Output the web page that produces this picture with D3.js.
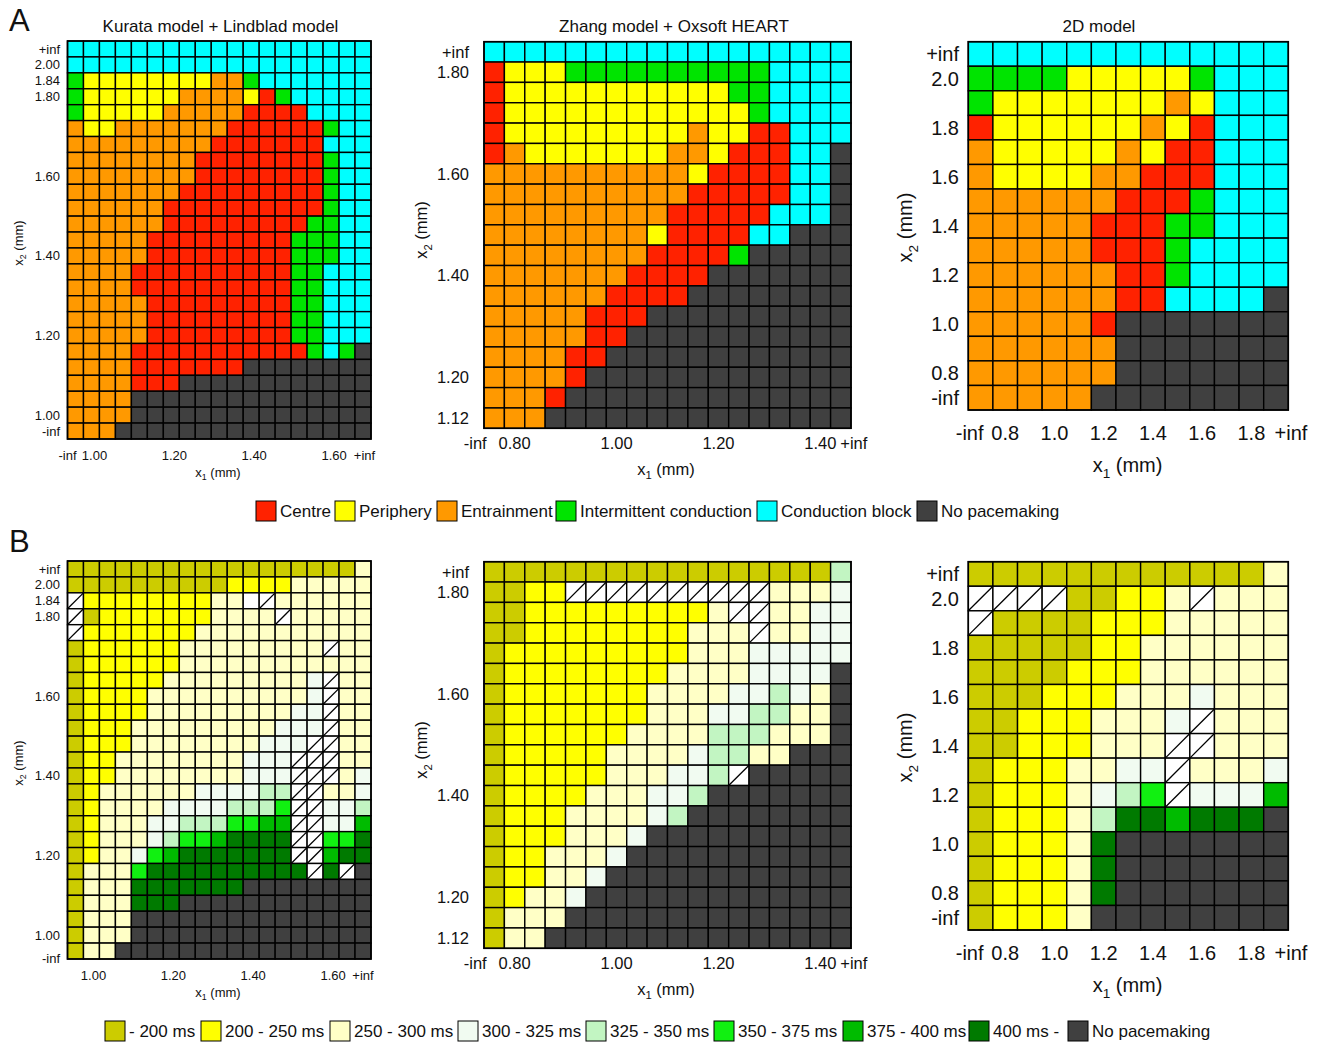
<!DOCTYPE html>
<html>
<head>
<meta charset="utf-8">
<script src="https://cdn.jsdelivr.net/npm/d3@7"></script>
<style>
  body { margin: 0; background: #fff; }
  text { font-family: "Liberation Sans", Arial, sans-serif; fill: #111; }
</style>
</head>
<body>
<div id="chart"></div>
<script>
// ---- categories (grid rows top->bottom, columns left->right) ----
const kurataX = ["-inf","1.00","1.04","1.08","1.12","1.16","1.20","1.24","1.28","1.32","1.36","1.40","1.44","1.48","1.52","1.56","1.60","1.64","+inf"]
const kurataY = ["+inf","2.00","1.84","1.80","1.76","1.72","1.68","1.64","1.60","1.56","1.52","1.48","1.44","1.40","1.36","1.32","1.28","1.24","1.20","1.16","1.12","1.08","1.04","1.00","-inf"]
const kurataXTicks = ["-inf","1.00","1.20","1.40","1.60","+inf"]
const kurataYTicks = ["+inf","2.00","1.84","1.80","1.60","1.40","1.20","1.00","-inf"]

const zhangX = ["-inf","0.80","0.84","0.88","0.92","0.96","1.00","1.04","1.08","1.12","1.16","1.20","1.24","1.28","1.32","1.36","1.40","+inf"]
const zhangY = ["+inf","1.80","1.76","1.72","1.68","1.64","1.60","1.56","1.52","1.48","1.44","1.40","1.36","1.32","1.28","1.24","1.20","1.16","1.12"]
const zhangXTicks = ["-inf","0.80","1.00","1.20","1.40","+inf"]
const zhangYTicks = ["+inf","1.80","1.60","1.40","1.20","1.12"]

const model2dX = ["-inf","0.8","0.9","1.0","1.1","1.2","1.3","1.4","1.5","1.6","1.7","1.8","+inf"]
const model2dY = ["+inf","2.0","1.9","1.8","1.7","1.6","1.5","1.4","1.3","1.2","1.1","1.0","0.9","0.8","-inf"]
const model2dXTicks = ["-inf","0.8","1.0","1.2","1.4","1.6","1.8","+inf"]
const model2dYTicks = ["+inf","2.0","1.8","1.6","1.4","1.2","1.0","0.8","-inf"]

// ---- A: pacemaking regime. R centre, Y periphery, O entrainment, G intermittent, C block, K none ----
const kurataRegime = [
  "CCCCCCCCCCCCCCCCCCC",
  "CCCCCCCCCCCCCCCCCCC",
  "GYYYYYYYYOOGCCCCCCC",
  "GYYYYYYOOOOYRGCCCCC",
  "GYYYYYOOOOORRRRCCCC",
  "OYYOOOOOOORRRRRRGCC",
  "OOOOOOOOORRRRRRRCCC",
  "OOOOOOOORRRRRRRRGCC",
  "OOOOOOOORRRRRRRRGCC",
  "OOOOOOORRRRRRRRRGCC",
  "OOOOOORRRRRRRRRRGCC",
  "OOOOOORRRRRRRRRGGCC",
  "OOOOORRRRRRRRRGGGCC",
  "OOOOORRRRRRRRRGGGCC",
  "OOOORRRRRRRRRRGGCCC",
  "OOOORRRRRRRRRRGGCCC",
  "OOOOORRRRRRRRRGGCCC",
  "OOOOORRRRRRRRRGGCCC",
  "OOOOORRRRRRRRRGGCCC",
  "OOOORRRRRRRRRRRGCGK",
  "OOOORRRRRRRKKKKKKKK",
  "OOOORRRKKKKKKKKKKKK",
  "OOOOKKKKKKKKKKKKKKK",
  "OOOOKKKKKKKKKKKKKKK",
  "OOOKKKKKKKKKKKKKKKK"
]
const zhangRegime = [
  "CCCCCCCCCCCCCCCCCC",
  "RYYYGGGGGGGGGGCCCC",
  "RYYYYYYYYYYYGGCCCC",
  "RYYYYYYYYYYYYGCCCC",
  "RYYYYYYYYYOYYRRCCC",
  "ROYYYYYYYOOYRRRCCK",
  "OOOOOOOOOOYRRRRCCK",
  "OOOOOOOOOORRRRRCCK",
  "OOOOOOOOORRRRRCCCK",
  "OOOOOOOOYRRRRCCKKK",
  "OOOOOOOORRRRGKKKKK",
  "OOOOOOORRRRKKKKKKK",
  "OOOOOORRRRKKKKKKKK",
  "OOOOORRRKKKKKKKKKK",
  "OOOOORRKKKKKKKKKKK",
  "OOOORRKKKKKKKKKKKK",
  "OOOORKKKKKKKKKKKKK",
  "OOORKKKKKKKKKKKKKK",
  "OOOKKKKKKKKKKKKKKK"
]
const model2dRegime = [
  "CCCCCCCCCCCCC",
  "GGGGYYYYYGCCC",
  "GYYYYYYYOYCCC",
  "RYYYYYYOYRCCC",
  "OYYYYYOYRRCCC",
  "OYYYYOORRRCCC",
  "OOOOOORRRGCCC",
  "OOOOORRRGGCCC",
  "OOOOORRRGCCCC",
  "OOOOOORRGCCCC",
  "OOOOOORRCCCCK",
  "OOOOORKKKKKKK",
  "OOOOOOKKKKKKK",
  "OOOOOOKKKKKKK",
  "OOOOOKKKKKKKK"
]

// ---- B: cycle length bins. a <200, b 200-250, c 250-300, d 300-325, e 325-350,
//      f 350-375, g 375-400, h >400, K none, H hatched, W blank ----
const kurataCycle = [
  "aaaaaaaaaaaaaaaaaac",
  "aaaaaaaaaabbbbccccc",
  "HbbbbbbbbccWHcccccc",
  "HabbbbbbbccccHccccc",
  "Hbbbbbbbccccccccccc",
  "abbbbbbcccccccccHcc",
  "abbbbbbcccccccccccc",
  "abbbbbcccccccccdHcc",
  "abbbbccccccccccdHcc",
  "abbbbcccccccccddHcc",
  "abbbcccccccccdddHcc",
  "abbbccccccccdddHHcc",
  "abbccccccccdddHHHcc",
  "abbccccccccdddHHHcd",
  "abccccccddddeeHHccd",
  "abccccddddeeefHHdde",
  "abcccddeeeffggHHddg",
  "abcccdeffghhhhHHffh",
  "abccdfghhhhhhhHHghh",
  "acccfhhhhhhhhhhHhHK",
  "accchhhhhhhKKKKKKKK",
  "accchhhKKKKKKKKKKKK",
  "acccKKKKKKKKKKKKKKK",
  "acccKKKKKKKKKKKKKKK",
  "accKKKKKKKKKKKKKKKK"
]
const zhangCycle = [
  "aaaaaaaaaaaaaaaaae",
  "aabbHHHHHHHHHHcccd",
  "aabbbbbbbbbcHHccdd",
  "aabbbbbbbbcccHccdd",
  "abbbbbbbbbcccddddd",
  "abbbbbbbbccccddddK",
  "abbbbbbbccccddedcK",
  "abbbbbbbcccddeeccK",
  "abbbbbbcccceeecccK",
  "abbbbbccccdeeccKKK",
  "abbbbbcccddeHKKKKK",
  "abbbbcccddeKKKKKKK",
  "abbbccccdeKKKKKKKK",
  "abbbcccdKKKKKKKKKK",
  "abbcccdKKKKKKKKKKK",
  "abbccdKKKKKKKKKKKK",
  "abccdKKKKKKKKKKKKK",
  "acccKKKKKKKKKKKKKK",
  "accKKKKKKKKKKKKKKK"
]
const model2dCycle = [
  "aaaaaaaaaaaac",
  "HHHHaabbcHccc",
  "Haaaabbbccccc",
  "aaaaabbcccccc",
  "aaaabbbcccccc",
  "aaabbbcccdccc",
  "aabbbcccdHccc",
  "aabbbcccHHccc",
  "abbbccddHcccd",
  "abbbcdefHdddg",
  "abbbcehhghhhK",
  "abbbchKKKKKKK",
  "abbbchKKKKKKK",
  "abbbchKKKKKKK",
  "abbbcKKKKKKKK"
]

// ---- legends ----
const regimeCodes = ["R","Y","O","G","C","K"]
const regimeLabels = ["Centre","Periphery","Entrainment","Intermittent conduction","Conduction block","No pacemaking"]
const cycleCodes = ["a","b","c","d","e","f","g","h","K"]
const cycleLabels = ["- 200 ms","200 - 250 ms","250 - 300 ms","300 - 325 ms","325 - 350 ms","350 - 375 ms","375 - 400 ms","400 ms -","No pacemaking"]

const regimeColours = {R:'#ff2200', Y:'#ffff00', O:'#ff9900', G:'#00e400', C:'#00ffff', K:'#404040'}
const cycleColours = {a:'#cccc00', b:'#ffff00', c:'#ffffc6', d:'#f1fbf1', e:'#c2f5c2',
                      f:'#11f011', g:'#00bb00', h:'#007a00', K:'#404040', H:'#ffffff', W:'#ffffff'}

const W = 1317, H = 1044
const svg = d3.select('#chart').append('svg')
    .attr('width', W)
    .attr('height', H)
svg.append('rect').attr('width', W).attr('height', H).attr('fill', '#fff')

const FONT = '"Liberation Sans", Arial, sans-serif'

/*
 * Panel layouts (pixel geometry only). B row is the same, shifted down.
 */
const kurataLayout = {x0: 67.5, x1: 371, y0: 41, y1: 439, fs: 13, yLabelX: 60, xLabelY: 455,
    xTitle: [218, 472], yTitle: [18, 243], dxNum: 3, dxMinus: -8, dxPlus: 1.5, titleX: 220.5}
const zhangLayout = {x0: 484, x1: 851, y0: 41.7, y1: 428.3, fs: 16.5, yLabelX: 469, xLabelY: 443.3,
    xTitle: [666, 469], yTitle: [421.7, 230], dxNum: 0, dxMinus: -19, dxPlus: 13, titleX: 674}
const model2dLayout = {x0: 968.3, x1: 1288.3, y0: 41.7, y1: 410, fs: 20, yLabelX: 959, xLabelY: 433.3,
    xTitle: [1127.5, 465], yTitle: [905, 227.5], dxNum: 0, dxMinus: -11, dxPlus: 15, titleX: 1099}
const B_SHIFT = 520

function subTitle(g, x, y, fs, sub, rotate) {
    const t = g.append('text')
        .attr('text-anchor', 'middle')
        .attr('font-size', fs)
        .attr('transform', rotate ? `translate(${x},${y}) rotate(-90)` : `translate(${x},${y})`)
        .attr('dy', '0.35em')
    t.append('tspan').text('x')
    t.append('tspan').attr('font-size', fs * 0.68).attr('dy', fs * 0.28).text(sub)
    t.append('tspan').attr('dy', -fs * 0.28).text(' (mm)')
}

function drawPanel(L, shift, xCats, yCats, rows, colours, xTicks, yTicks, opts) {
    const g = svg.append('g')

    const xScale = d3.scaleBand().domain(xCats).range([L.x0, L.x1])
    const yScale = d3.scaleBand().domain(yCats).range([L.y0 + shift, L.y1 + shift])

    const cells = []
    rows.forEach((row, i) => {
        row.split('').forEach((code, j) => {
            cells.push({xv: xCats[j], yv: yCats[i], code: code})
        })
    })

    g.selectAll('rect.cell')
        .data(cells)
        .join('rect')
        .attr('class', 'cell')
        .attr('x', d => xScale(d.xv))
        .attr('y', d => yScale(d.yv))
        .attr('width', xScale.bandwidth())
        .attr('height', yScale.bandwidth())
        .attr('fill', d => colours[d.code])
        .attr('stroke', '#000')
        .attr('stroke-width', 1.4)

    // hatched cells: single diagonal
    g.selectAll('line.hatch')
        .data(cells.filter(d => d.code === 'H'))
        .join('line')
        .attr('class', 'hatch')
        .attr('x1', d => xScale(d.xv))
        .attr('y1', d => yScale(d.yv) + yScale.bandwidth())
        .attr('x2', d => xScale(d.xv) + xScale.bandwidth())
        .attr('y2', d => yScale(d.yv))
        .attr('stroke', '#000')
        .attr('stroke-width', 1.3)

    /*
     * X and Y axis (labels only)
     */
    const xAxis = d3.axisBottom(xScale).tickValues(xTicks).tickSize(0).tickPadding(0)
    const gx = g.append('g')
        .attr('transform', `translate(0, ${L.xLabelY + shift})`)
        .call(xAxis)
    gx.select('.domain').remove()
    gx.attr('font-size', L.fs).attr('font-family', FONT)
    gx.selectAll('text')
        .attr('y', 0)
        .attr('dy', '0.35em')
        .attr('fill', '#111')
        .attr('x', d => d === '-inf' ? L.dxMinus : d === '+inf' ? (opts.dxPlus ?? L.dxPlus) : (opts.dxNum ?? L.dxNum))

    const yAxis = d3.axisLeft(yScale).tickValues(yTicks).tickSize(0).tickPadding(0)
    const gy = g.append('g')
        .attr('transform', `translate(${L.yLabelX}, 0)`)
        .call(yAxis)
    gy.select('.domain').remove()
    gy.attr('font-size', L.fs).attr('font-family', FONT)
    gy.selectAll('text')
        .attr('x', 0)
        .attr('dy', '0.35em')
        .attr('fill', '#111')
        .attr('y', d => d === '-inf' ? (opts.dyMinus || 0) : 0)

    subTitle(g, L.xTitle[0], L.xTitle[1] + shift, L.fs, '1', false)
    subTitle(g, L.yTitle[0], L.yTitle[1] + shift, L.fs, '2', true)

    // outer frame
    g.append('rect')
        .attr('x', L.x0).attr('y', L.y0 + shift)
        .attr('width', L.x1 - L.x0).attr('height', L.y1 - L.y0)
        .attr('fill', 'none').attr('stroke', '#000').attr('stroke-width', 1.6)

    if (opts.title) {
        g.append('text')
            .attr('x', L.titleX).attr('y', 26)
            .attr('dy', '0.35em')
            .attr('text-anchor', 'middle')
            .attr('font-size', 17)
            .text(opts.title)
    }
}

drawPanel(kurataLayout, 0, kurataX, kurataY, kurataRegime, regimeColours, kurataXTicks, kurataYTicks,
    {title: 'Kurata model + Lindblad model'})
drawPanel(zhangLayout, 0, zhangX, zhangY, zhangRegime, regimeColours, zhangXTicks, zhangYTicks,
    {title: 'Zhang model + Oxsoft HEART'})
drawPanel(model2dLayout, 0, model2dX, model2dY, model2dRegime, regimeColours, model2dXTicks, model2dYTicks,
    {title: '2D model'})

drawPanel(kurataLayout, B_SHIFT, kurataX, kurataY, kurataCycle, cycleColours,
    kurataXTicks.filter(t => t !== '-inf'), kurataYTicks, {dyMinus: 7, dxNum: 2, dxPlus: 0})
drawPanel(zhangLayout, B_SHIFT, zhangX, zhangY, zhangCycle, cycleColours, zhangXTicks, zhangYTicks, {})
drawPanel(model2dLayout, B_SHIFT, model2dX, model2dY, model2dCycle, cycleColours, model2dXTicks, model2dYTicks, {})

// panel letters
svg.append('text').attr('x', 9).attr('y', 31).attr('font-size', 31).text('A')
svg.append('text').attr('x', 9).attr('y', 552).attr('font-size', 31).text('B')

/*
 * Legends
 */
function drawLegend(codes, labels, colours, xs, cy) {
    const items = svg.append('g').selectAll('g')
        .data(codes.map((c, i) => ({code: c, label: labels[i], x: xs[i]})))
        .join('g')
        .attr('transform', d => `translate(${d.x}, ${cy})`)
    items.append('rect')
        .attr('x', 0).attr('y', -10)
        .attr('width', 20).attr('height', 20)
        .attr('fill', d => colours[d.code])
        .attr('stroke', '#000')
        .attr('stroke-width', 1)
    items.append('text')
        .attr('x', 24).attr('y', 0)
        .attr('dy', '0.35em')
        .attr('font-size', 17)
        .text(d => d.label)
}

drawLegend(regimeCodes, regimeLabels, regimeColours, [256, 335, 437, 556, 757, 917], 511)
drawLegend(cycleCodes, cycleLabels, cycleColours, [105, 201, 330, 458, 586, 714, 843, 969, 1068], 1031)
</script>
</body>
</html>
